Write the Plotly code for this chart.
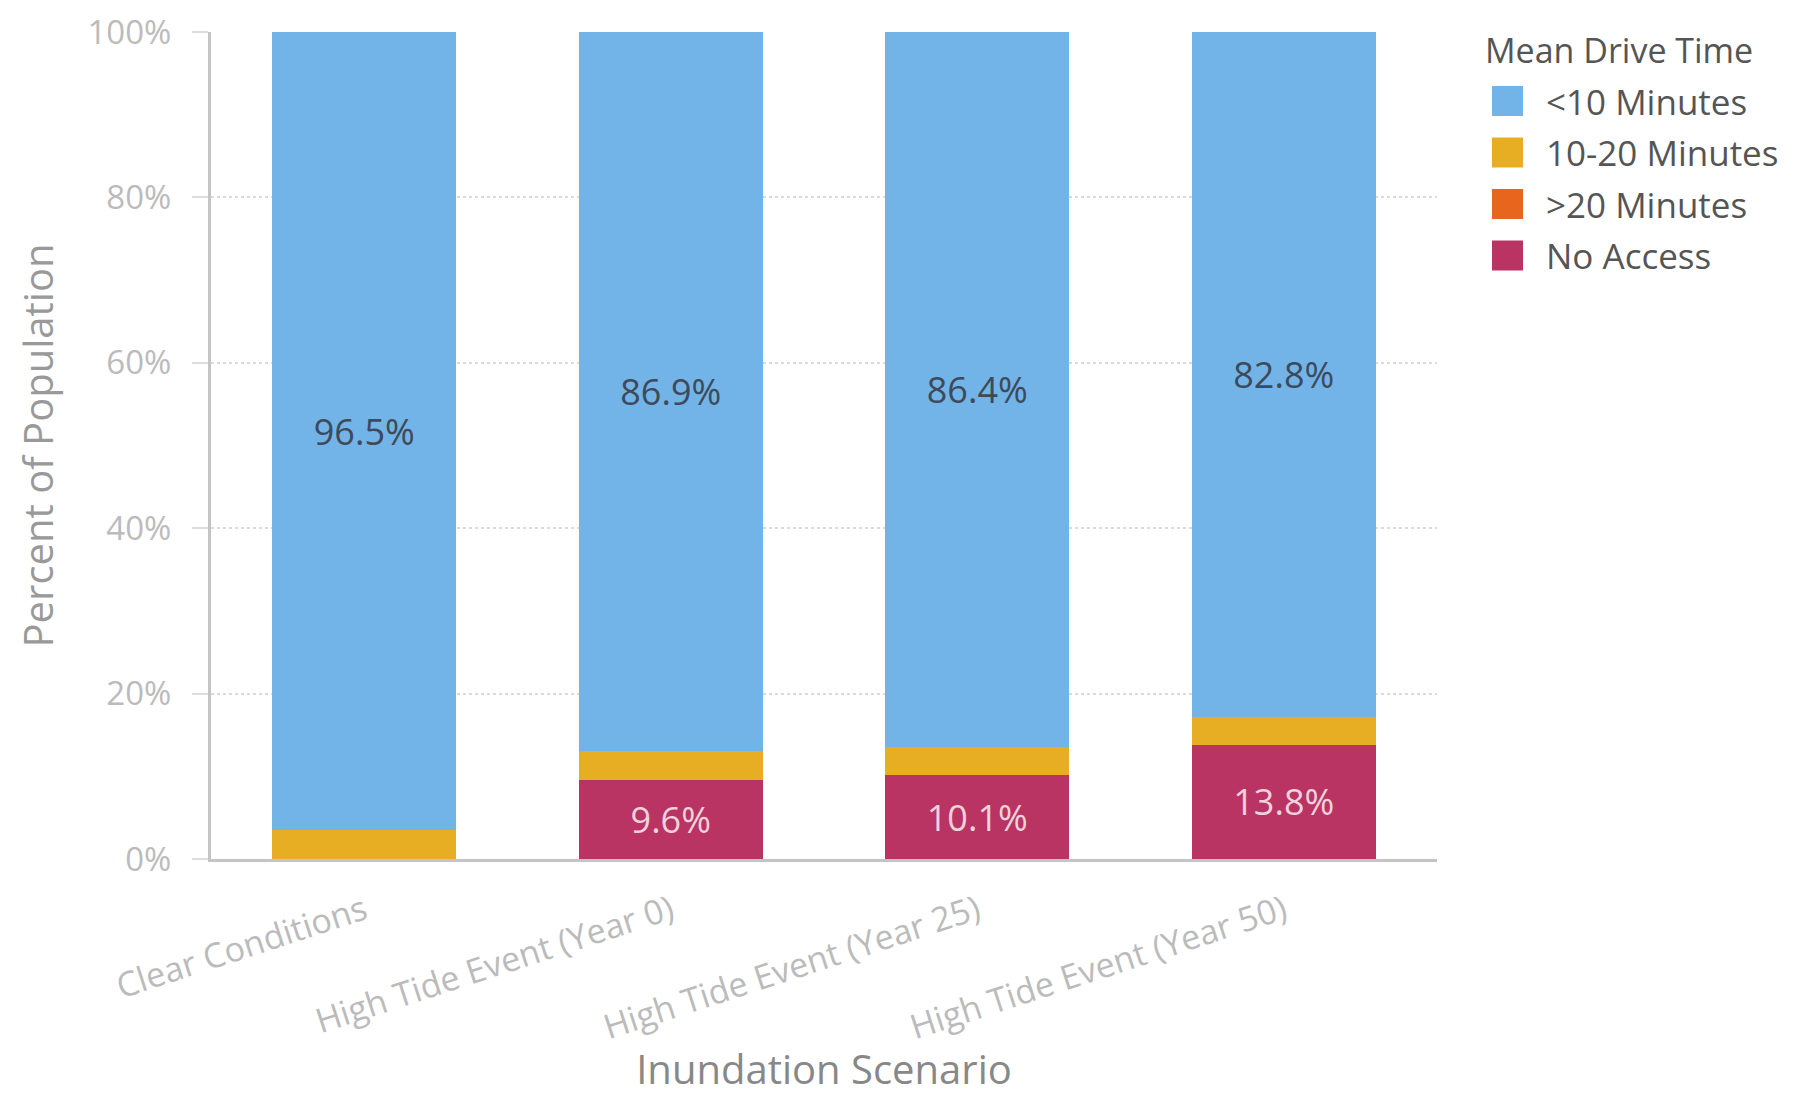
import plotly.graph_objects as go

categories = ["Clear Conditions", "High Tide Event (Year 0)",
              "High Tide Event (Year 25)", "High Tide Event (Year 50)"]
under_10 = [96.5, 86.9, 86.4, 82.8]
min_10_20 = [3.5, 3.5, 3.5, 3.4]
over_20 = [0.0, 0.0, 0.0, 0.0]
no_access = [0.0, 9.6, 10.1, 13.8]

series_names = ["<10 Minutes", "10-20 Minutes", ">20 Minutes", "No Access"]
series_colors = ["#72B4E8", "#E7AE24", "#E8651E", "#B93462"]
legend_title = "Mean Drive Time"
y_ticks = [0, 20, 40, 60, 80, 100]

# page body has an 8px margin, so the figure is sized/offset to compensate
OFF = 8
W, H = 1802 - OFF, 1096 - OFF
ML, MT = 211 - OFF, 32 - OFF
PR, PB = 1437 - OFF, 859 - OFF
MR, MB = W - PR, H - PB
PW = PR - ML
PH = PB - MT

FONT = "Open Sans"

def pct_text(vals):
    return [f"{v}%" if v > 0 else "" for v in vals]

fig = go.Figure()
# stack bottom -> top: No Access, >20, 10-20, <10
stack = [
    (no_access, 3, pct_text(no_access), "rgba(255,255,255,0.78)"),
    (over_20, 2, None, None),
    (min_10_20, 1, None, None),
    (under_10, 0, pct_text(under_10), "#3E4A5A"),
]
for vals, idx, txt, tcol in stack:
    kw = {}
    if txt is not None:
        kw = dict(text=txt, textposition="inside", insidetextanchor="middle",
                  textangle=0, constraintext="none",
                  insidetextfont=dict(family=FONT, size=36, color=tcol))
    fig.add_trace(go.Bar(
        x=categories, y=vals, name=series_names[idx],
        marker=dict(color=series_colors[idx], line=dict(width=0)),
        width=0.6, showlegend=False, hoverinfo="x+y+name", **kw))

fig.update_layout(
    width=W, height=H,
    margin=dict(l=ML, r=MR, t=MT, b=MB, autoexpand=False),
    barmode="stack",
    plot_bgcolor="white", paper_bgcolor="white",
    font=dict(family=FONT, color="#999999"),
    showlegend=False,
)
fig.update_yaxes(
    range=[0, 100], tickvals=y_ticks, ticktext=[f"{t}%" for t in y_ticks],
    showgrid=True, gridcolor="#DADADA", gridwidth=1.5, griddash="dot",
    showline=True, linecolor="#C4C4C4", linewidth=3,
    ticks="outside", ticklen=16, tickcolor="#DDDDDD", tickwidth=1.5,
    ticklabelstandoff=14, ticklabeloverflow="allow",
    tickfont=dict(family=FONT, size=33, color="#BBBBBB"),
    zeroline=False,
    title=dict(text="Percent of Population", standoff=22,
               font=dict(family=FONT, size=40, color="#999999")),
)
fig.update_xaxes(
    range=[-0.5, 3.5],
    showline=True, linecolor="#C4C4C4", linewidth=3,
    ticks="", tickangle=-18, ticklabelstandoff=16,
    tickfont=dict(family=FONT, size=34, color="#BBBBBB"),
    title=dict(text="Inundation Scenario", standoff=18,
               font=dict(family=FONT, size=40, color="#888888")),
)

# custom legend (large square swatches as in reference)
def px_x(x):
    return (x - OFF - ML) / PW

def px_y(y):
    return 1 - (y - OFF - MT) / PH

shapes = []
annotations = [dict(text=legend_title, xref="paper", yref="paper",
                    x=px_x(1483), y=px_y(50), xanchor="left", yanchor="middle",
                    showarrow=False, font=dict(family=FONT, size=34, color="#555555"))]
for i, (name, col) in enumerate(zip(series_names, series_colors)):
    cy = 101 + 51.5 * i
    shapes.append(dict(type="rect", xref="paper", yref="paper",
                       x0=px_x(1492), x1=px_x(1523), y0=px_y(cy + 15), y1=px_y(cy - 15),
                       fillcolor=col, line=dict(width=0)))
    annotations.append(dict(text=name, xref="paper", yref="paper",
                            x=px_x(1544), y=px_y(cy), xanchor="left", yanchor="middle",
                            showarrow=False,
                            font=dict(family=FONT, size=35, color="#555555")))
fig.update_layout(shapes=shapes, annotations=annotations)

fig.write_html("out.html")
